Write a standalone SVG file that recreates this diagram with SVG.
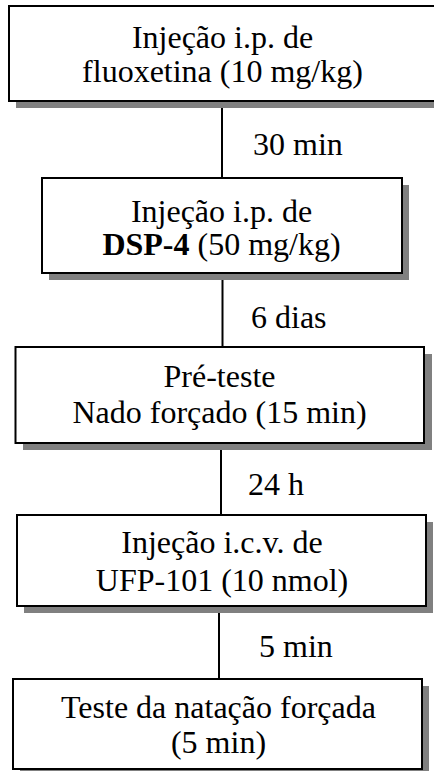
<svg xmlns="http://www.w3.org/2000/svg" width="434" height="771" viewBox="0 0 434 771">
<style>
.box{fill:#fff;stroke:#000;stroke-width:2}
.sh{fill:#808080}
.t{font-family:"Liberation Serif","Times New Roman",serif;font-size:32px;fill:#000}
.c{text-anchor:middle}
.conn line{stroke:#000;stroke-width:2}
</style>
<rect width="434" height="771" fill="#fff"/>
<g id="connectors" class="conn">
<line x1="222" y1="101" x2="222" y2="178"/>
<line x1="222.5" y1="273" x2="222.5" y2="347"/>
<line x1="221" y1="443" x2="221" y2="515"/>
<line x1="219" y1="606" x2="219" y2="679"/>
<text class="t" x="253" y="155">30 min</text>
<text class="t" x="251" y="328">6 dias</text>
<text class="t" x="248" y="495">24 h</text>
<text class="t" x="259" y="657">5 min</text>
</g>
<g id="n1">
<rect class="sh" x="16" y="13" width="427" height="95"/>
<rect class="box" x="9" y="6" width="427" height="95"/>
<text class="t c" x="222.5" y="48">Injeção i.p. de</text>
<text class="t c" x="222.5" y="82">fluoxetina (10 mg/kg)</text>
</g>
<g id="n2">
<rect class="sh" x="49" y="185" width="360" height="95"/>
<rect class="box" x="42" y="178" width="360" height="95"/>
<text class="t c" x="221.5" y="222">Injeção i.p. de</text>
<text class="t c" x="221.5" y="255"><tspan font-weight="bold">DSP-4</tspan> (50 mg/kg)</text>
</g>
<g id="n3">
<rect class="sh" x="23" y="354" width="409" height="96"/>
<rect class="box" x="15.5" y="347" width="408.5" height="96"/>
<text class="t c" x="219.5" y="387">Pré-teste</text>
<text class="t c" x="219.5" y="423">Nado forçado (15 min)</text>
</g>
<g id="n4">
<rect class="sh" x="24" y="522" width="409" height="91"/>
<rect class="box" x="17" y="515" width="409" height="91"/>
<text class="t c" x="222" y="553">Injeção i.c.v. de</text>
<text class="t c" x="222" y="591">UFP-101 (10 nmol)</text>
</g>
<g id="n5">
<rect class="sh" x="20" y="686" width="409" height="90"/>
<rect class="box" x="13" y="679" width="409" height="90"/>
<text class="t c" x="218.5" y="718">Teste da natação forçada</text>
<text class="t c" x="218.5" y="753">(5 min)</text>
</g>
</svg>
